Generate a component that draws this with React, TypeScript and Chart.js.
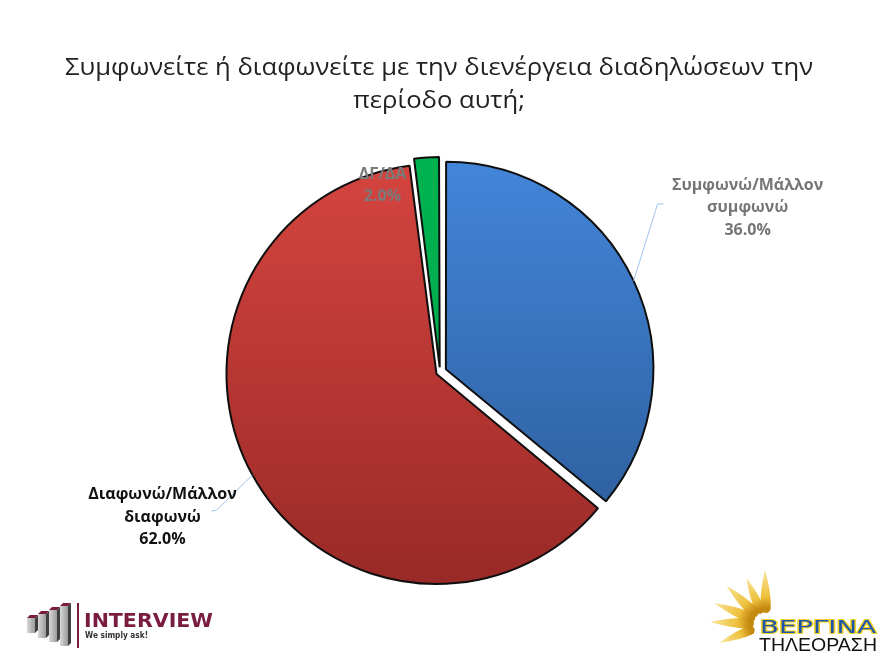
import React, { useEffect, useRef } from 'react';
import Chart from 'chart.js/auto';

const TITLE_LINES = ['Συμφωνείτε ή διαφωνείτε με την διενέργεια διαδηλώσεων την', 'περίοδο αυτή;'];
const CATEGORY_LINES = [['Συμφωνώ/Μάλλον', 'συμφωνώ'], ['Διαφωνώ/Μάλλον', 'διαφωνώ'], ['ΔΓ/ΔΑ']];
const VALUES = [36.0, 62.0, 2.0];

const TOP_COLORS = ['#4385d9', '#d4443f', '#00b350'];
const BOTTOM_COLORS = ['#2b5a96', '#9a2a27', '#00a34a'];
const SLICE_OFFSETS = [26, 16, 19];
const PIE_RADIUS = 206;
const LABEL_COLORS = ['#767676', '#111111', '#7a7a7a'];
// label placement relative to the slice's outer mid-point (style only)
const LABEL_LAYOUT = [
  { dx: 114, dy: -73, elbow: [24, -77], end: [30, -77], line: true },
  { dx: -90, dy: 42, elbow: [-36, 35], end: [-41, 36], line: true },
  { dx: -44, dy: 28, elbow: [0, 0], end: [0, 0], line: false },
];

function sliceShift(offset: number, circumference: number) {
  const o = offset / 4;
  const fix = 1 - Math.sin(Math.min(Math.PI, circumference || 0));
  return o + o * fix;
}

function fitFill(ctx: CanvasRenderingContext2D, text: string, x: number, y: number, width: number) {
  const w = ctx.measureText(text).width;
  ctx.save();
  ctx.translate(x, y);
  ctx.scale(width / w, 1);
  ctx.fillText(text, 0, 0);
  ctx.restore();
}

const titlePlugin = {
  id: 'customTitle',
  afterDraw(chart: any) {
    const ctx = chart.ctx as CanvasRenderingContext2D;
    ctx.save();
    ctx.fillStyle = '#222222';
    ctx.textAlign = 'center';
    ctx.textBaseline = 'middle';
    ctx.font = '23px "Open Sans", sans-serif';
    const ref = ctx.measureText(TITLE_LINES[0]).width;
    const sx = 748 / ref;
    TITLE_LINES.forEach((line, i) => {
      ctx.save();
      ctx.translate(439, 68 + i * 33);
      ctx.scale(sx, 1);
      ctx.fillText(line, 0, 0);
      ctx.restore();
    });
    ctx.restore();
  },
};

const labelPlugin = {
  id: 'sliceLabels',
  afterDatasetsDraw(chart: any) {
    const ctx = chart.ctx as CanvasRenderingContext2D;
    const meta = chart.getDatasetMeta(0);
    const ds = chart.data.datasets[0];
    meta.data.forEach((arc: any, i: number) => {
      const p = arc.getProps(['x', 'y', 'startAngle', 'endAngle', 'outerRadius', 'circumference'], true);
      const mid = (p.startAngle + p.endAngle) / 2;
      const shift = sliceShift(ds.offset[i], p.circumference);
      const ex = p.x + Math.cos(mid) * (p.outerRadius + shift);
      const ey = p.y + Math.sin(mid) * (p.outerRadius + shift);
      const L = LABEL_LAYOUT[i];
      if (L.line) {
        ctx.save();
        ctx.strokeStyle = '#9fc3ea';
        ctx.lineWidth = 1;
        ctx.beginPath();
        ctx.moveTo(ex, ey);
        ctx.lineTo(ex + L.elbow[0], ey + L.elbow[1]);
        ctx.lineTo(ex + L.end[0], ey + L.end[1]);
        ctx.stroke();
        ctx.restore();
      }
      const lines = [...CATEGORY_LINES[i], VALUES[i].toFixed(1) + '%'];
      const lh = 22.5;
      const cx = ex + L.dx;
      const cy = ey + L.dy;
      ctx.save();
      ctx.fillStyle = LABEL_COLORS[i];
      ctx.font = 'bold 16px "Open Sans", sans-serif';
      ctx.textAlign = 'center';
      ctx.textBaseline = 'middle';
      lines.forEach((t, k) => {
        ctx.fillText(t, cx, cy + (k - (lines.length - 1) / 2) * lh);
      });
      ctx.restore();
    });
  },
};

function drawRay(ctx: CanvasRenderingContext2D, px: number, py: number, ang: number, r0: number, r1: number, w: number) {
  const dx = Math.cos(ang), dy = Math.sin(ang);
  const nx = -dy, ny = dx;
  const bx = px + dx * r0, by = py + dy * r0;
  const tx = px + dx * r1, ty = py + dy * r1;
  const g = ctx.createLinearGradient(bx, by, tx, ty);
  g.addColorStop(0, '#c48a10');
  g.addColorStop(0.3, '#eec13c');
  g.addColorStop(1, '#f8e49a');
  ctx.fillStyle = g;
  ctx.beginPath();
  ctx.moveTo(tx, ty);
  ctx.quadraticCurveTo(bx + dx * w * 3 + nx * w * 1.2, by + dy * w * 3 + ny * w * 1.2, bx + nx * w, by + ny * w);
  ctx.arc(bx, by, w, ang + Math.PI / 2, ang - Math.PI / 2, false);
  ctx.quadraticCurveTo(bx + dx * w * 3 - nx * w * 1.2, by + dy * w * 3 - ny * w * 1.2, tx, ty);
  ctx.closePath();
  ctx.fill();
}

const logoPlugin = {
  id: 'logos',
  afterDraw(chart: any) {
    const ctx = chart.ctx as CanvasRenderingContext2D;
    ctx.save();
    // INTERVIEW bars
    const bars = [
      { x: 27, top: 615, bottom: 633 },
      { x: 38, top: 611, bottom: 638 },
      { x: 49, top: 607, bottom: 642 },
      { x: 60, top: 603, bottom: 646 },
    ];
    bars.forEach((b) => {
      const g = ctx.createLinearGradient(b.x, 0, b.x + 8, 0);
      g.addColorStop(0, '#d8d8d8');
      g.addColorStop(1, '#9a9a9a');
      ctx.fillStyle = g;
      ctx.fillRect(b.x, b.top + 3, 8, b.bottom - b.top - 3);
      ctx.fillStyle = '#3f3f3f';
      ctx.beginPath();
      ctx.moveTo(b.x + 8, b.top + 3);
      ctx.lineTo(b.x + 11, b.top);
      ctx.lineTo(b.x + 11, b.bottom - 3);
      ctx.lineTo(b.x + 8, b.bottom);
      ctx.closePath();
      ctx.fill();
      ctx.fillStyle = '#7a1c40';
      ctx.beginPath();
      ctx.moveTo(b.x, b.top + 3);
      ctx.lineTo(b.x + 3, b.top);
      ctx.lineTo(b.x + 11, b.top);
      ctx.lineTo(b.x + 8, b.top + 3);
      ctx.closePath();
      ctx.fill();
    });
    ctx.fillStyle = '#7a1c40';
    ctx.fillRect(77, 603, 2, 45);
    ctx.textAlign = 'left';
    ctx.textBaseline = 'alphabetic';
    ctx.font = 'bold 19px "DejaVu Sans", sans-serif';
    fitFill(ctx, 'INTERVIEW', 84, 627, 129);
    ctx.fillStyle = '#333333';
    ctx.font = 'bold 9px "DejaVu Sans", sans-serif';
    fitFill(ctx, 'We simply ask!', 85, 638, 63);

    // Vergina logo
    const px = 766, py = 624;
    const rays = [
      { a: -91, r0: 16, r1: 54, w: 5 },
      { a: -113, r0: 16, r1: 50, w: 4.5 },
      { a: -136, r0: 17, r1: 55, w: 5 },
      { a: -158, r0: 17, r1: 56, w: 5 },
      { a: -178, r0: 17, r1: 56, w: 5 },
      { a: 158, r0: 17, r1: 50, w: 4.5 },
    ];
    rays.forEach((r) => drawRay(ctx, px, py, (r.a * Math.PI) / 180, r.r0, r.r1, r.w));
    ctx.font = '21px "DejaVu Sans", sans-serif';
    ctx.lineWidth = 2.5;
    ctx.strokeStyle = '#f2d22a';
    ctx.lineJoin = 'round';
    const w1 = ctx.measureText('ΒΕΡΓΙΝΑ').width;
    ctx.save();
    ctx.translate(760, 633);
    ctx.scale(116 / w1, 0.8);
    ctx.strokeText('ΒΕΡΓΙΝΑ', 0, 0);
    ctx.fillStyle = '#1d56a8';
    ctx.fillText('ΒΕΡΓΙΝΑ', 0, 0);
    ctx.restore();
    ctx.fillStyle = '#111111';
    ctx.font = '19px "Liberation Sans", sans-serif';
    fitFill(ctx, 'ΤΗΛΕΟΡΑΣΗ', 759, 651, 118);
    ctx.restore();
  },
};

export default function App() {
  const ref = useRef<HTMLCanvasElement | null>(null);
  useEffect(() => {
    if (!ref.current) return;
    const chart = new Chart(ref.current, {
      type: 'pie',
      data: {
        labels: CATEGORY_LINES.map((l) => l.join(' ')),
        datasets: [
          {
            data: VALUES,
            backgroundColor: (c: any) => {
              const ch = c.chart;
              const area = ch.chartArea;
              const i = c.dataIndex ?? 0;
              if (!area) return TOP_COLORS[i];
              const cy = (area.top + area.bottom) / 2;
              const g = ch.ctx.createLinearGradient(0, cy - PIE_RADIUS, 0, cy + PIE_RADIUS);
              g.addColorStop(0, TOP_COLORS[i]);
              g.addColorStop(1, BOTTOM_COLORS[i]);
              return g;
            },
            borderColor: '#0f0f0f',
            borderWidth: 2,
            offset: SLICE_OFFSETS,
          } as any,
        ],
      },
      options: {
        responsive: false,
        animation: false,
        radius: PIE_RADIUS,
        layout: { padding: { top: 100, bottom: 16, left: 0, right: 0 } },
        plugins: {
          legend: { display: false },
          tooltip: { enabled: false },
          title: { display: false },
        },
      } as any,
      plugins: [titlePlugin, labelPlugin, logoPlugin],
    });
    return () => chart.destroy();
  }, []);
  return (
    <div style={{ position: 'absolute', left: 0, top: 0, width: 880, height: 660, background: '#ffffff' }}>
      <canvas ref={ref} width={880} height={660} />
    </div>
  );
}
